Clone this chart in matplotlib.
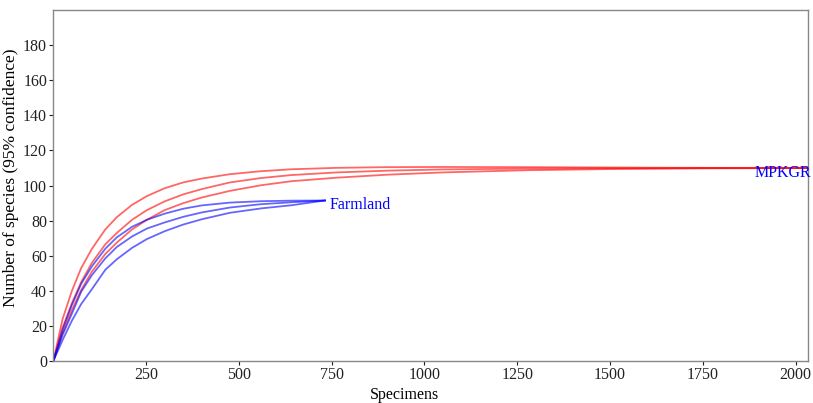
import numpy as np
import matplotlib
matplotlib.use('Agg')
import matplotlib.pyplot as plt

plt.rcParams['font.family'] = ['Liberation Serif', 'DejaVu Serif']

# MPKGR rarefaction curve (upper bound, expected, lower bound)
mpkgr_x = [0, 25, 50, 75, 104, 140, 171, 212, 252, 300, 350, 400, 476, 560, 642, 764, 900, 1050, 1285, 1500, 1750, 2034]
mpkgr_upper = [0, 24, 40, 53, 64, 75, 82, 89, 94, 98.5, 101.8, 104, 106.5, 108.2, 109.3, 110.1, 110.5, 110.6, 110.5, 110.3, 110.1, 110]
mpkgr_mid = [0, 19, 33, 45, 56, 66.5, 73, 80.5, 86, 91, 95, 98, 101.8, 104.3, 106, 107.5, 108.5, 109.2, 109.7, 109.9, 110, 110]
mpkgr_lower = [0, 16, 29, 40.5, 51, 61, 67.5, 75, 80.5, 86, 90, 93.2, 97, 100.2, 102.5, 104.5, 106.2, 107.5, 108.8, 109.4, 109.8, 110]

# Farmland rarefaction curve
farm_x = [0, 25, 50, 75, 104, 140, 171, 212, 252, 300, 350, 400, 476, 560, 642, 732]
farm_upper = [0, 18, 32, 44, 54, 64, 70.5, 76.5, 80.5, 84, 86.8, 88.7, 90.3, 91.1, 91.4, 91.5]
farm_mid = [0, 15, 27, 39.5, 49, 58.5, 65, 71, 75.5, 79, 82.2, 84.7, 87.5, 89.4, 90.5, 91.5]
farm_lower = [0, 12, 23, 32.5, 41, 52, 58, 64.5, 69.5, 74, 77.8, 80.8, 84.5, 87, 88.8, 91.5]

fig = plt.figure(figsize=(8.13, 4.03), dpi=100)
ax = fig.add_axes([0.0656, 0.104, 0.9284, 0.871])

for y in (mpkgr_upper, mpkgr_mid, mpkgr_lower):
    ax.plot(mpkgr_x, y, color='red', alpha=0.6, lw=1.3)
for y in (farm_upper, farm_mid, farm_lower):
    ax.plot(farm_x, y, color='blue', alpha=0.6, lw=1.3)

ax.text(745, 88.8, 'Farmland', color='blue', fontsize=11.5, va='center', ha='left')
ax.text(1889, 107.2, 'MPKGR', color='blue', fontsize=11.5, va='center', ha='left')

ax.set_xlim(0, 2034)
ax.set_ylim(0, 200)
ax.set_xticks([250, 500, 750, 1000, 1250, 1500, 1750, 2000])
ax.set_yticks(np.arange(0, 181, 20))
ax.tick_params(labelsize=11.5, colors='#222222', length=3, width=0.8, pad=1.5)
for s in ax.spines.values():
    s.set_color('#888888')
    s.set_linewidth(1.0)
ax.set_xlabel('Specimens', fontsize=11.5)
ax.set_ylabel('Number of species (95% confidence)', fontsize=12.5)
ax.xaxis.set_label_coords(0.465, -0.075)
ax.yaxis.set_label_coords(-0.045, 0.523)

plt.savefig('out.png', dpi=100)
